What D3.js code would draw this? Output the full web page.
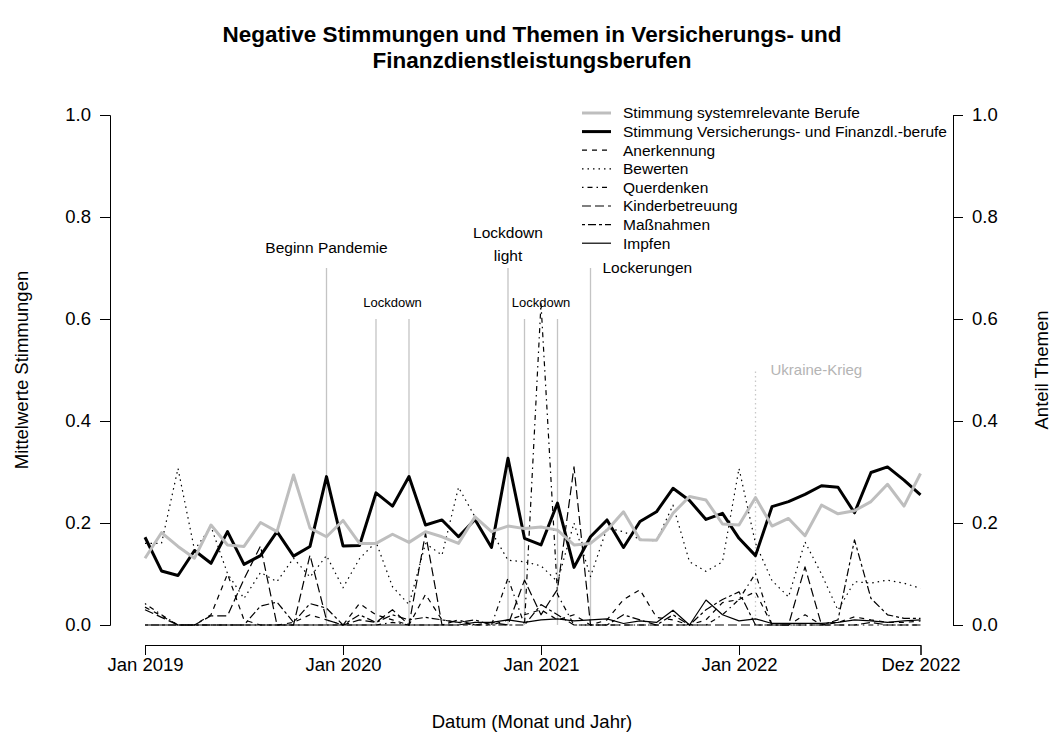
<!DOCTYPE html>
<html>
<head>
<meta charset="utf-8">
<script src="https://cdn.jsdelivr.net/npm/d3@7"></script>
<style>
  body { margin: 0; background: #fff; }
  text { font-family: "Liberation Sans", Arial, sans-serif; }
</style>
</head>
<body>
<svg id="chart" width="1061" height="749"></svg>
<script>
// Monatswerte Jan 2019 .. Dez 2022 (48 Monate)
const months = d3.range(48);
const tickMonths = [0, 12, 24, 36, 47];
const tickLabels = ["Jan 2019", "Jan 2020", "Jan 2021", "Jan 2022", "Dez 2022"];
const yTicks = [0, 0.2, 0.4, 0.6, 0.8, 1.0];

const stimmungSystem = [
  0.131, 0.181, 0.154, 0.131, 0.196, 0.157, 0.154, 0.201, 0.183, 0.294, 0.190, 0.173,
  0.205, 0.160, 0.160, 0.178, 0.162, 0.183, 0.173, 0.160, 0.212, 0.183, 0.194, 0.189,
  0.192, 0.186, 0.157, 0.160, 0.186, 0.222, 0.167, 0.166, 0.219, 0.252, 0.245, 0.198,
  0.196, 0.250, 0.194, 0.209, 0.175, 0.235, 0.218, 0.224, 0.242, 0.276, 0.233, 0.297
];
const stimmungVersicherung = [
  0.172, 0.106, 0.097, 0.146, 0.121, 0.183, 0.119, 0.136, 0.183, 0.135, 0.154, 0.291,
  0.155, 0.156, 0.259, 0.233, 0.291, 0.196, 0.206, 0.173, 0.207, 0.152, 0.327, 0.170,
  0.157, 0.239, 0.113, 0.173, 0.206, 0.152, 0.203, 0.222, 0.268, 0.244, 0.207, 0.219,
  0.170, 0.136, 0.232, 0.242, 0.256, 0.273, 0.270, 0.220, 0.299, 0.310, 0.284, 0.255
];
const anerkennung = [
  0.035, 0.018, 0.000, 0.000, 0.020, 0.100, 0.010, 0.000, 0.000, 0.005, 0.020, 0.010,
  0.000, 0.042, 0.020, 0.010, 0.000, 0.060, 0.010, 0.005, 0.000, 0.000, 0.010, 0.020,
  0.030, 0.010, 0.020, 0.000, 0.010, 0.050, 0.069, 0.015, 0.010, 0.000, 0.010, 0.044,
  0.050, 0.065, 0.000, 0.000, 0.020, 0.000, 0.005, 0.016, 0.010, 0.005, 0.005, 0.008
];
const bewerten = [
  0.160, 0.160, 0.307, 0.147, 0.193, 0.101, 0.052, 0.103, 0.085, 0.131, 0.094, 0.136,
  0.073, 0.130, 0.163, 0.075, 0.040, 0.160, 0.137, 0.270, 0.212, 0.183, 0.127, 0.124,
  0.116, 0.085, 0.200, 0.095, 0.190, 0.183, 0.168, 0.165, 0.235, 0.124, 0.105, 0.124,
  0.307, 0.160, 0.087, 0.055, 0.163, 0.100, 0.029, 0.085, 0.082, 0.088, 0.082, 0.072
];
const querdenken = [
  0.042, 0.020, 0.000, 0.000, 0.000, 0.000, 0.000, 0.000, 0.000, 0.000, 0.000, 0.000,
  0.000, 0.000, 0.000, 0.005, 0.000, 0.000, 0.000, 0.000, 0.000, 0.000, 0.092, 0.000,
  0.630, 0.060, 0.000, 0.000, 0.000, 0.000, 0.000, 0.000, 0.000, 0.000, 0.000, 0.020,
  0.050, 0.101, 0.000, 0.000, 0.000, 0.000, 0.000, 0.000, 0.000, 0.000, 0.000, 0.000
];
const kinderbetreuung = [
  0.030, 0.015, 0.000, 0.000, 0.018, 0.018, 0.090, 0.155, 0.000, 0.000, 0.137, 0.010,
  0.000, 0.010, 0.005, 0.030, 0.000, 0.180, 0.000, 0.010, 0.000, 0.005, 0.000, 0.088,
  0.020, 0.070, 0.310, 0.000, 0.000, 0.000, 0.000, 0.000, 0.000, 0.000, 0.000, 0.000,
  0.000, 0.000, 0.000, 0.000, 0.114, 0.000, 0.000, 0.000, 0.005, 0.000, 0.000, 0.000
];
const massnahmen = [
  0.000, 0.000, 0.000, 0.000, 0.000, 0.000, 0.000, 0.037, 0.045, 0.005, 0.042, 0.033,
  0.000, 0.020, 0.005, 0.020, 0.010, 0.015, 0.010, 0.005, 0.010, 0.000, 0.000, 0.000,
  0.040, 0.020, 0.000, 0.000, 0.000, 0.020, 0.010, 0.000, 0.020, 0.000, 0.030, 0.050,
  0.065, 0.000, 0.000, 0.000, 0.000, 0.000, 0.010, 0.167, 0.052, 0.020, 0.013, 0.013
];
const impfen = [
  0.000, 0.000, 0.000, 0.000, 0.000, 0.000, 0.000, 0.000, 0.000, 0.000, 0.000, 0.000,
  0.000, 0.000, 0.000, 0.000, 0.000, 0.000, 0.000, 0.000, 0.005, 0.005, 0.010, 0.005,
  0.010, 0.012, 0.008, 0.010, 0.012, 0.003, 0.008, 0.005, 0.029, 0.000, 0.049, 0.020,
  0.008, 0.012, 0.003, 0.003, 0.003, 0.003, 0.005, 0.010, 0.008, 0.005, 0.008, 0.010
];

// Ereignisse (Monatsindex, Linienhoehe)
const eventMonths = [11, 14, 16, 22, 23, 25, 27];
const eventHeights = [0.7, 0.6, 0.6, 0.7, 0.6, 0.6, 0.7];
const ukraineMonth = 37;
const ukraineHeight = 0.5;

const series = [
  { name: "Stimmung systemrelevante Berufe", values: stimmungSystem, color: "#bebebe", width: 3, dash: null },
  { name: "Stimmung Versicherungs- und Finanzdl.-berufe", values: stimmungVersicherung, color: "#000", width: 3, dash: null },
  { name: "Anerkennung", values: anerkennung, color: "#000", width: 1.2, dash: "5 5" },
  { name: "Bewerten", values: bewerten, color: "#000", width: 1.2, dash: "1.5 4" },
  { name: "Querdenken", values: querdenken, color: "#000", width: 1.2, dash: "1.5 4 5 4" },
  { name: "Kinderbetreuung", values: kinderbetreuung, color: "#000", width: 1.2, dash: "9 4" },
  { name: "Maßnahmen", values: massnahmen, color: "#000", width: 1.2, dash: "3 3 8 3" },
  { name: "Impfen", values: impfen, color: "#000", width: 1.2, dash: null }
];

const svg = d3.select("#chart");
const axisLeftX = 110, axisRightX = 953, axisBottomY = 645;

const x = d3.scaleLinear().domain([0, 47]).range([145, 920.5]);
const y = d3.scaleLinear().domain([0, 1]).range([625, 115]);

// Titel
svg.append("text")
  .attr("x", 532).attr("y", 42)
  .attr("text-anchor", "middle")
  .attr("font-size", "22.5px").attr("font-weight", "bold")
  .text("Negative Stimmungen und Themen in Versicherungs- und");
svg.append("text")
  .attr("x", 532).attr("y", 68)
  .attr("text-anchor", "middle")
  .attr("font-size", "22.5px").attr("font-weight", "bold")
  .text("Finanzdienstleistungsberufen");

// Ereignislinien
svg.selectAll(".event")
  .data(eventMonths)
  .enter()
  .append("line")
  .attr("x1", d => x(d)).attr("x2", d => x(d))
  .attr("y1", y(0)).attr("y2", (d, i) => y(eventHeights[i]))
  .attr("stroke", "#c4c4c4").attr("stroke-width", 1.3);

svg.append("line")
  .attr("x1", x(ukraineMonth)).attr("x2", x(ukraineMonth))
  .attr("y1", y(0)).attr("y2", y(ukraineHeight))
  .attr("stroke", "#c8c8c8").attr("stroke-width", 1.3)
  .attr("stroke-dasharray", "1.5 3");

const annot = svg.append("g").attr("font-size", "15.5px").attr("fill", "#000");
annot.append("text").attr("x", x(11)).attr("y", y(0.74)).attr("dy", "0.35em")
  .attr("text-anchor", "middle").text("Beginn Pandemie");
annot.append("text").attr("x", (x(14) + x(16)) / 2).attr("y", y(0.633)).attr("dy", "0.35em")
  .attr("text-anchor", "middle").attr("font-size", "13px").text("Lockdown");
annot.append("text").attr("x", x(22)).attr("y", y(0.77)).attr("dy", "0.35em")
  .attr("text-anchor", "middle").text("Lockdown");
annot.append("text").attr("x", x(22)).attr("y", y(0.725)).attr("dy", "0.35em")
  .attr("text-anchor", "middle").text("light");
annot.append("text").attr("x", (x(23) + x(25)) / 2).attr("y", y(0.633)).attr("dy", "0.35em")
  .attr("text-anchor", "middle").attr("font-size", "13px").text("Lockdown");
annot.append("text").attr("x", x(27) + 12).attr("y", y(0.7)).attr("dy", "0.35em")
  .text("Lockerungen");
annot.append("text").attr("x", x(ukraineMonth) + 15).attr("y", y(0.5)).attr("dy", "0.35em")
  .attr("fill", "#b4b4b4").attr("font-size", "15px").text("Ukraine-Krieg");

// Linien
const line = d3.line()
  .x((d, i) => x(months[i]))
  .y(d => y(d));

svg.selectAll(".series")
  .data(series.slice().reverse())
  .enter()
  .append("path")
  .attr("d", d => line(d.values))
  .attr("fill", "none")
  .attr("stroke", d => d.color)
  .attr("stroke-width", d => d.width)
  .attr("stroke-dasharray", d => d.dash)
  .attr("stroke-linejoin", "round");

// Achsen
const tickStyle = g => {
  g.selectAll("text").attr("font-family", "Liberation Sans, Arial, sans-serif").attr("font-size", "18.5px").attr("fill", "#000");
  g.selectAll("line").attr("stroke", "#000");
  g.select(".domain").attr("stroke", "#000");
};

svg.append("g")
  .attr("transform", `translate(0,${axisBottomY})`)
  .call(d3.axisBottom(x).tickValues(tickMonths).tickFormat((d, i) => tickLabels[i]).tickSizeOuter(0).tickSize(10).tickPadding(3))
  .call(tickStyle);

svg.append("g")
  .attr("transform", `translate(${axisLeftX},0)`)
  .call(d3.axisLeft(y).tickValues(yTicks).tickFormat(d3.format(".1f")).tickSizeOuter(0).tickSize(10).tickPadding(9))
  .call(tickStyle);

svg.append("g")
  .attr("transform", `translate(${axisRightX},0)`)
  .call(d3.axisRight(y).tickValues(yTicks).tickFormat(d3.format(".1f")).tickSizeOuter(0).tickSize(10).tickPadding(9))
  .call(tickStyle);

svg.append("text")
  .attr("x", 532).attr("y", 728)
  .attr("text-anchor", "middle").attr("font-size", "18.5px")
  .text("Datum (Monat und Jahr)");

svg.append("text")
  .attr("transform", `translate(28,370) rotate(-90)`)
  .attr("text-anchor", "middle").attr("font-size", "18.5px")
  .text("Mittelwerte Stimmungen");

svg.append("text")
  .attr("transform", `translate(1048,370) rotate(-90)`)
  .attr("text-anchor", "middle").attr("font-size", "18.5px")
  .text("Anteil Themen");

// Legende
const legend = svg.append("g").attr("transform", "translate(582,113)");
const item = legend.selectAll("g")
  .data(series)
  .enter()
  .append("g")
  .attr("transform", (d, i) => `translate(0,${i * 18.6})`);

item.append("line")
  .attr("x1", 0).attr("x2", 29)
  .attr("stroke", d => d.color)
  .attr("stroke-width", d => d.width)
  .attr("stroke-dasharray", d => d.dash);

item.append("text")
  .attr("x", 41).attr("dy", "0.35em")
  .attr("font-size", "15.5px")
  .text(d => d.name);
</script>
</body>
</html>
